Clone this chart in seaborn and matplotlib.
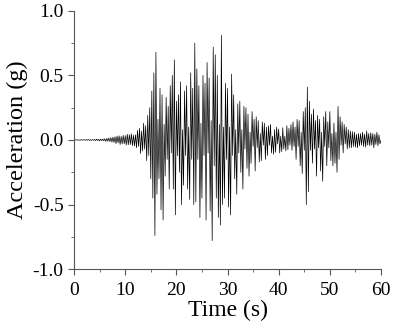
import numpy as np
import matplotlib
matplotlib.use("Agg")
import matplotlib.pyplot as plt
from matplotlib.ticker import MultipleLocator, FuncFormatter
import seaborn as sns

# acceleration record, one value every 0.2 s (0 .. 60 s)
dt = 0.2
accel = [
    0.000, 0.002, -0.001, 0.002, -0.002, 0.001, -0.002, 0.003, -0.002, 0.002,
    0.002, -0.003, 0.003, -0.002, 0.004, -0.003, 0.003, -0.004, 0.003, -0.002,
    0.004, -0.005, 0.006, -0.004, 0.005, -0.007, 0.006, -0.005, 0.008, -0.006,
    0.009, -0.011, 0.013, -0.010, 0.015, -0.012, 0.018, -0.016, 0.022, -0.019,
    0.025, -0.028, 0.030, -0.022, 0.033, -0.035, 0.028, -0.031, 0.036, -0.030,
    0.034, -0.040, 0.045, -0.038, 0.042, -0.035, 0.048, -0.044, 0.038, -0.046,
    0.040, -0.060, 0.075, -0.050, 0.090, -0.105, 0.070, -0.085, 0.130, -0.070,
    0.110, -0.160, 0.190, -0.120, 0.250, -0.300, 0.380, -0.450, 0.520, -0.740,
    0.680, -0.420, 0.160, -0.300, 0.400, -0.540, 0.350, -0.620, 0.120, -0.280,
    0.330, -0.150, 0.260, -0.380, 0.420, -0.100, 0.500, -0.380, 0.620, -0.580,
    0.300, -0.120, 0.350, -0.250, 0.450, -0.500, 0.080, -0.350, 0.380, -0.120,
    0.420, -0.380, 0.100, -0.460, 0.520, -0.150, 0.400, -0.500, 0.750, -0.480,
    0.550, -0.150, 0.420, -0.600, 0.130, -0.450, 0.500, -0.120, 0.440, -0.620,
    0.600, -0.100, 0.480, -0.550, 0.150, -0.780, 0.720, -0.200, 0.660, -0.450,
    0.500, -0.600, 0.120, -0.660, 0.810, -0.500, 0.100, -0.450, 0.440, -0.150,
    0.400, -0.520, 0.100, -0.580, 0.510, -0.120, 0.350, -0.300, 0.080, -0.420,
    0.280, -0.100, 0.300, -0.250, 0.080, -0.380, 0.260, -0.070, 0.250, -0.220,
    0.200, -0.280, 0.060, -0.180, 0.220, -0.050, 0.160, -0.240, 0.180, -0.060,
    0.150, -0.170, 0.050, -0.160, 0.140, -0.040, 0.130, -0.150, 0.100, -0.120,
    0.110, -0.040, 0.120, -0.100, 0.030, -0.110, 0.080, -0.095, 0.100, -0.030,
    0.085, -0.100, 0.030, -0.090, 0.095, -0.070, 0.030, -0.085, 0.110, -0.075,
    0.090, -0.040, 0.120, -0.080, 0.140, -0.050, 0.100, -0.150, 0.160, -0.050,
    0.150, -0.200, 0.060, -0.260, 0.220, -0.080, 0.250, -0.500, 0.410, -0.400,
    0.300, -0.080, 0.200, -0.180, 0.240, -0.070, 0.150, -0.280, 0.190, -0.060,
    0.160, -0.240, 0.060, -0.320, 0.180, -0.050, 0.220, -0.200, 0.140, -0.060,
    0.220, -0.160, 0.050, -0.200, 0.130, -0.180, 0.060, -0.250, 0.260, -0.150,
    0.180, -0.040, 0.140, -0.100, 0.120, -0.030, 0.100, -0.070, 0.080, -0.060,
    0.070, -0.060, 0.065, -0.050, 0.060, -0.055, 0.045, -0.060, 0.050, -0.045,
    0.050, -0.040, 0.060, -0.050, 0.045, -0.055, 0.070, -0.040, 0.050, -0.045,
    0.055, -0.040, 0.050, -0.060, 0.045, -0.035, 0.060, -0.045, 0.040, -0.030,
    0.000,
]
time = np.arange(len(accel)) * dt

sns.set_style("ticks")
plt.rcParams["font.family"] = ["Liberation Serif", "DejaVu Serif"]

fig = plt.figure(figsize=(3.94, 3.29), dpi=100)
ax = fig.add_axes([0.188, 0.182, 0.779, 0.785])

sns.lineplot(x=time, y=accel, ax=ax, color="black", linewidth=0.5)

ax.set_xlim(0, 60)
ax.set_ylim(-1.0, 1.0)
ax.xaxis.set_major_locator(MultipleLocator(10))
ax.xaxis.set_minor_locator(MultipleLocator(5))
ax.yaxis.set_major_locator(MultipleLocator(0.5))
ax.yaxis.set_minor_locator(MultipleLocator(0.25))
ax.yaxis.set_major_formatter(FuncFormatter(lambda v, p: "%.1f" % v))
ax.tick_params(which="major", direction="out", length=4, width=0.8,
               labelsize=14, color="#555555", labelcolor="black")
ax.tick_params(axis="x", which="major", pad=5)
ax.tick_params(which="minor", direction="out", length=2, width=0.6,
               color="#555555")
for s in ["left", "bottom"]:
    ax.spines[s].set_color("#555555")
    ax.spines[s].set_linewidth(0.8)
sns.despine(ax=ax)

ax.set_xlabel("Time (s)", fontsize=17, labelpad=1, color="black")
ax.set_ylabel("Acceleration (g)", fontsize=17.5, labelpad=3, color="black")

fig.savefig("out.png", dpi=100)
